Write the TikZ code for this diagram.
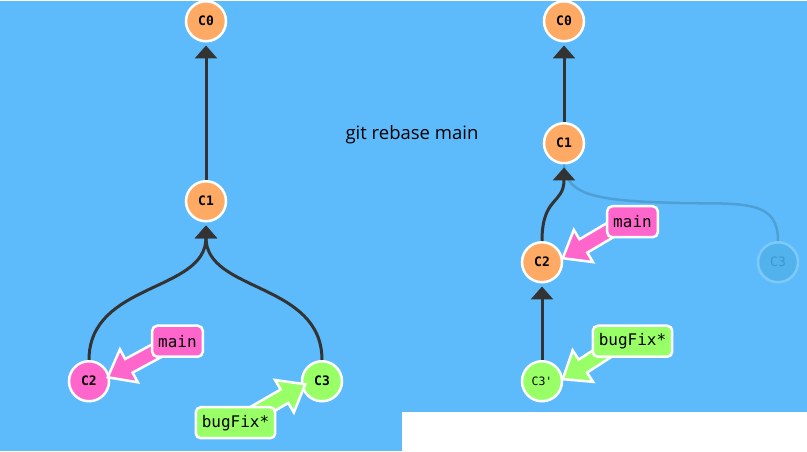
\documentclass[tikz,border=0pt]{standalone}
\usepackage{fontspec}
\setmainfont{Open Sans}
\newfontfamily\monof{DejaVu Sans Mono}
\usetikzlibrary{shapes.arrows,arrows.meta,calc}
\definecolor{bg}{RGB}{94,187,251}
\definecolor{corange}{RGB}{255,170,100}
\definecolor{cpink}{RGB}{255,102,204}
\definecolor{cgreen}{RGB}{153,255,102}
\definecolor{edgec}{RGB}{51,51,51}
\definecolor{ghostfill}{RGB}{82,178,236}
\definecolor{ghostline}{RGB}{125,202,250}
\definecolor{ghosttext}{RGB}{62,150,205}
\definecolor{ghostedge}{RGB}{78,160,212}
\begin{document}
\begin{tikzpicture}[x=1pt,y=-1pt,
  commit/.style={circle, minimum size=40pt, inner sep=0pt, draw=white, line width=2.5pt,
    font=\monof\bfseries\fontsize{13}{13}\selectfont},
  ghost/.style={circle, minimum size=40pt, inner sep=0pt, draw=ghostline, line width=2.5pt,
    fill=ghostfill, text=ghosttext, font=\monof\fontsize{13}{13}\selectfont},
  branch/.style={rounded corners=5pt, draw=white, line width=2.5pt, inner xsep=6pt,
    minimum height=31pt, font=\monof\fontsize{16}{16}\selectfont},
  fat/.style={single arrow, draw=white, line width=2.5pt, inner xsep=0pt, inner ysep=6.5pt,
    single arrow head extend=11pt, single arrow tip angle=76},
  link/.style={draw=edgec, line width=3pt, shorten >=3pt,
    -{Triangle[width=22pt,length=13pt]}},
]
\fill[bg] (0,0) rectangle (807,450);
\fill[white] (402,411) rectangle (807,450);

% left graph
\node[commit, fill=corange] (c0) at (206,20) {C0};
\node[commit, fill=corange] (c1) at (206,200) {C1};
\node[commit, fill=cpink] (c2) at (89,380) {C2};
\node[commit, fill=cgreen] (c3) at (322,380) {C3};
\draw[link] (c1) -- (c0);
\draw[link] (c2.north) .. controls +(0,-78) and +(0,70) .. (c1.south);
\draw[link] (c3.north) .. controls +(0,-78) and +(0,70) .. (c1.south);

% right graph
\node[commit, fill=corange] (d0) at (564,20) {C0};
\node[commit, fill=corange] (d1) at (564,142) {C1};
\node[commit, fill=corange] (d2) at (542,261) {C2};
\node[commit, fill=cgreen, font=\monof\fontsize{11.5}{11.5}\selectfont] (d3) at (542,380) {C3'};
\node[ghost] (g3) at (778,261) {C3};
\draw[ghostedge, line width=2.5pt] (g3.north) .. controls +(0,-38) and +(60,0) .. (690,202)
  .. controls (600,200) and (566,196) .. (d1.south);
\draw[link] (d1) -- (d0);
\draw[link] (d2.north) .. controls +(0,-45) and +(0,40) .. (d1.south);
\draw[link] (d3) -- (d2);

% fat arrows
\coordinate (tA) at (165,345); \coordinate (pA) at (106,377);
\coordinate (tB) at (255,412); \coordinate (pB) at (307,382);
\coordinate (tC) at (615,226); \coordinate (pC) at (561,258);
\coordinate (tD) at (612,346); \coordinate (pD) at (561,379);
\foreach \sA/\eA/\colA in {tA/pA/cpink, tB/pB/cgreen, tC/pC/cpink, tD/pD/cgreen}{
  \path let \p1=($(\eA)-(\sA)$), \n1={atan2(\y1,\x1)}, \n2={veclen(\x1,\y1)} in
    node[fat, fill=\colA, rotate=\n1, minimum height=\n2, anchor=tip] at (\eA) {};
}

% branch labels
\node[branch, fill=cpink] (mL) at (177.5,340) {main};
\node[branch, fill=cgreen] (bL) at (235.5,421.5) {bugFix*};
\node[branch, fill=cpink] (mR) at (632.5,220.5) {main};
\node[branch, fill=cgreen] (bR) at (632.5,340) {bugFix*};

\node[font=\fontsize{18.5}{18.5}\selectfont] (cmd) at (412,133) {git rebase main};
\end{tikzpicture}
\end{document}
